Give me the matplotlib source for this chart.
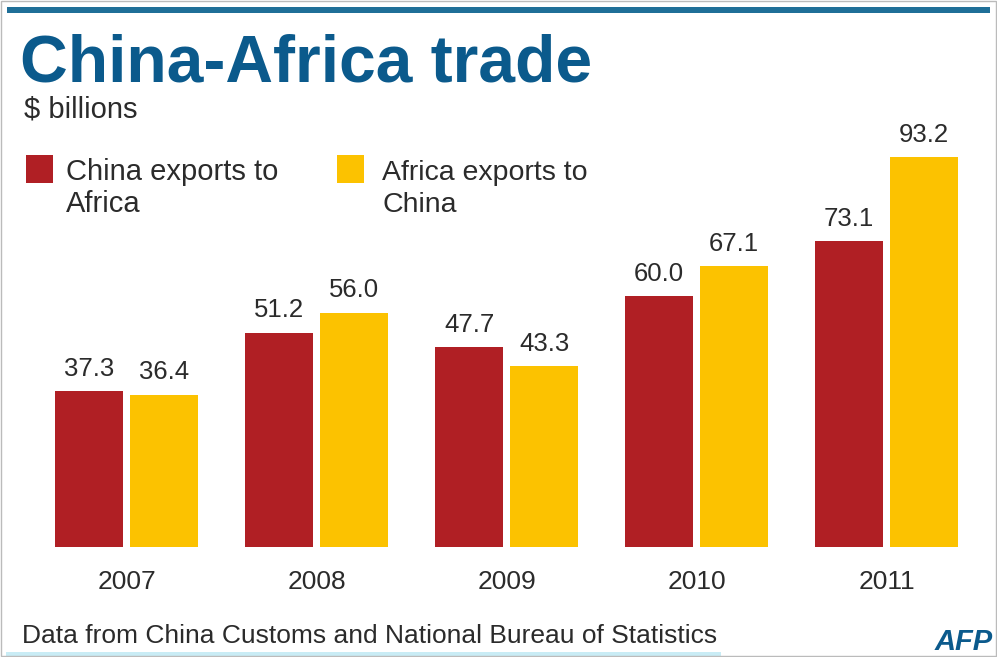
import matplotlib

matplotlib.use("Agg")
import matplotlib.pyplot as plt
from matplotlib.patches import Rectangle
import numpy as np

plt.rcParams["font.family"] = ["Liberation Sans", "DejaVu Sans"]

years = ["2007", "2008", "2009", "2010", "2011"]
china_exports = [37.3, 51.2, 47.7, 60.0, 73.1]
africa_exports = [36.4, 56.0, 43.3, 67.1, 93.2]

RED = "#b01f24"
YELLOW = "#fcc200"
BLUE = "#0b5a8c"
TEXT = "#2b2b2b"

W, H = 997, 657
fig = plt.figure(figsize=(W / 100, H / 100), dpi=100)


def fy(py):
    # figure fraction from a pixel row counted from the top
    return 1 - py / H


# axes placed so baseline sits at y=547px and 93.2 reaches y=157px
ax = fig.add_axes([0, fy(547), 1, 390 / H])
ax.set_xlim(-126.5 / 190, (W - 126.5) / 190)
ax.set_ylim(0, 93.2)
ax.axis("off")

x = np.arange(len(years))
bw = 68 / 190
off = 37.5 / 190
ax.bar(x - off, china_exports, bw, color=RED)
ax.bar(x + off, africa_exports, bw, color=YELLOW)

for xi, c, a in zip(x, china_exports, africa_exports):
    for xp, v in ((xi - off, c), (xi + off, a)):
        ax.annotate(f"{v:.1f}", (xp, v), xytext=(0, 11), textcoords="offset points",
                    ha="center", va="baseline", fontsize=18.5, color=TEXT)
for xi, yr in zip(x, years):
    ax.annotate(yr, (xi, 0), xytext=(0, -30), textcoords="offset points",
                ha="center", va="baseline", fontsize=19, color=TEXT)

# header
fig.add_artist(Rectangle((7 / W, fy(13)), (W - 14) / W, 6 / H, transform=fig.transFigure,
                         color="#1f6f98", lw=0))
fig.text(20 / W, fy(82), "China-Africa trade", fontsize=47.5, fontweight="bold",
         color=BLUE, va="baseline", ha="left")
fig.text(24 / W, fy(118), "$ billions", fontsize=21, color=TEXT, va="baseline")

# legend
fig.add_artist(Rectangle((26 / W, fy(183)), 27 / W, 28 / H, transform=fig.transFigure,
                         color=RED, lw=0))
fig.add_artist(Rectangle((337 / W, fy(183)), 27 / W, 28 / H, transform=fig.transFigure,
                         color=YELLOW, lw=0))
fig.text(66 / W, fy(180), "China exports to", fontsize=21, color=TEXT, va="baseline")
fig.text(66 / W, fy(212), "Africa", fontsize=21, color=TEXT, va="baseline")
fig.text(382 / W, fy(180), "Africa exports to", fontsize=20.5, color=TEXT, va="baseline")
fig.text(382 / W, fy(212), "China", fontsize=20.5, color=TEXT, va="baseline")

# footer
fig.text(22 / W, fy(643), "Data from China Customs and National Bureau of Statistics",
         fontsize=19, color=TEXT, va="baseline")
fig.text(993 / W, fy(650), "AFP", fontsize=21, fontweight="bold", style="italic",
         color=BLUE, va="baseline", ha="right")
fig.add_artist(Rectangle((6 / W, fy(656)), 715 / W, 4 / H, transform=fig.transFigure,
                         color="#c9ecf5", lw=0))

# thin border
fig.add_artist(Rectangle((1 / W, 1 / H), (W - 2) / W, (H - 2) / H, transform=fig.transFigure,
                         fill=False, ec="#bbbbbb", lw=1))

fig.savefig("out.png", dpi=100)
